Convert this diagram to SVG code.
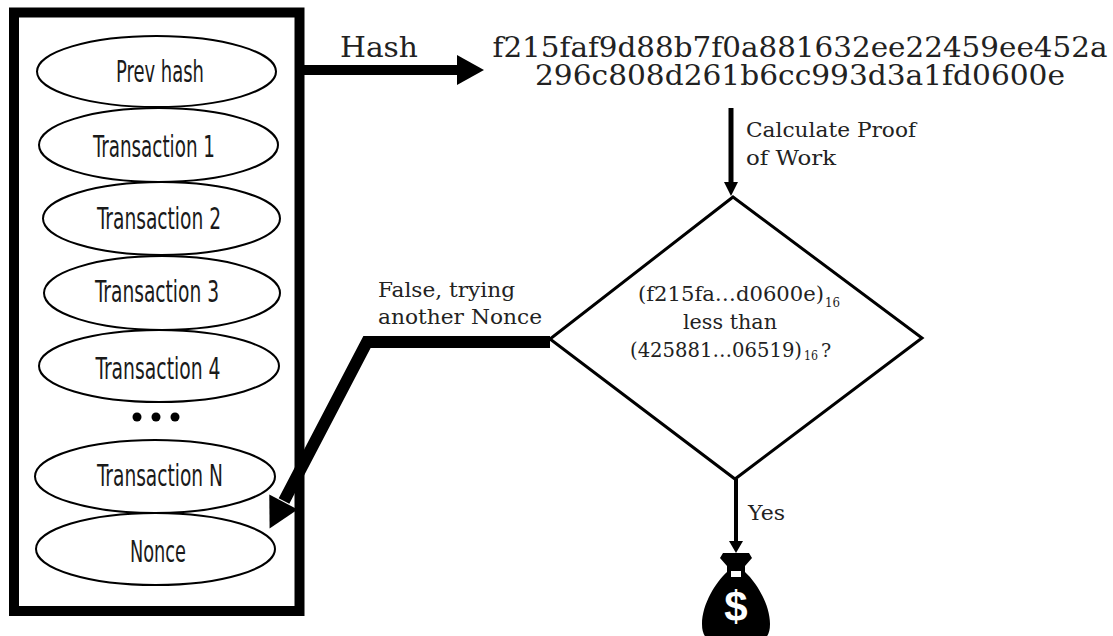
<svg xmlns="http://www.w3.org/2000/svg" width="1113" height="636" viewBox="0 0 1113 636">
<style>
.el{fill:#fff;stroke:#000;stroke-width:2}
.et{font-family:"Liberation Sans Narrow","DejaVu Sans Condensed","Liberation Sans",sans-serif;font-size:30px;fill:#1a1a1a;text-anchor:middle}
.sf{font-family:"DejaVu Serif","Liberation Serif",serif;fill:#222}
.ln{fill:none;stroke:#000}
.hd{fill:#000}
</style>
<rect width="1113" height="636" fill="#fff"/>
<g id="block">
<rect x="14" y="12.5" width="285.5" height="598.5" fill="none" stroke="#000" stroke-width="10"/>
</g>
<g id="prev-hash"><ellipse class="el" cx="156.5" cy="71.5" rx="119.5" ry="35.5"/><text class="et" x="160" y="82" textLength="88" lengthAdjust="spacingAndGlyphs">Prev hash</text></g>
<g id="tx1"><ellipse class="el" cx="158.5" cy="145" rx="119.5" ry="37"/><text class="et" x="154" y="157" textLength="122" lengthAdjust="spacingAndGlyphs">Transaction 1</text></g>
<g id="tx2"><ellipse class="el" cx="161.5" cy="218.5" rx="118.5" ry="36.5"/><text class="et" x="159" y="229" textLength="124" lengthAdjust="spacingAndGlyphs">Transaction 2</text></g>
<g id="tx3"><ellipse class="el" cx="162" cy="293" rx="118" ry="37"/><text class="et" x="157" y="302" textLength="124" lengthAdjust="spacingAndGlyphs">Transaction 3</text></g>
<g id="tx4"><ellipse class="el" cx="159" cy="366" rx="120" ry="36"/><text class="et" x="158" y="379" textLength="125" lengthAdjust="spacingAndGlyphs">Transaction 4</text></g>
<g id="dots"><circle cx="137" cy="417" r="4.5"/><circle cx="156" cy="417" r="4.5"/><circle cx="175" cy="417" r="4.5"/></g>
<g id="txN"><ellipse class="el" cx="155" cy="476.5" rx="120" ry="36.5"/><text class="et" x="160" y="486" textLength="126" lengthAdjust="spacingAndGlyphs">Transaction N</text></g>
<g id="nonce"><ellipse class="el" cx="155.5" cy="549" rx="119.5" ry="36"/><text class="et" x="158" y="562" textLength="56" lengthAdjust="spacingAndGlyphs">Nonce</text></g>
<g id="hash-value">
<text class="sf" x="800" y="57" font-size="28" text-anchor="middle" textLength="615" lengthAdjust="spacingAndGlyphs">f215faf9d88b7f0a881632ee22459ee452a</text>
<text class="sf" x="800" y="85" font-size="28" text-anchor="middle" textLength="530" lengthAdjust="spacingAndGlyphs">296c808d261b6cc993d3a1fd0600e</text>
</g>
<g id="decision">
<polygon points="733,197 922,338 735,479 550,339" fill="#fff" stroke="#000" stroke-width="3"/>
<text class="sf" x="638" y="301" font-size="20" textLength="186" lengthAdjust="spacingAndGlyphs">(f215fa…d0600e)</text>
<text class="sf" x="825" y="307" font-size="13" textLength="15" lengthAdjust="spacingAndGlyphs">16</text>
<text class="sf" x="683" y="329" font-size="20" textLength="94" lengthAdjust="spacingAndGlyphs">less than</text>
<text class="sf" x="630" y="357" font-size="20" textLength="172" lengthAdjust="spacingAndGlyphs">(425881…06519)</text>
<text class="sf" x="804" y="360" font-size="13" textLength="14" lengthAdjust="spacingAndGlyphs">16</text>
<text class="sf" x="821" y="357" font-size="19">?</text>
</g>
<g id="money-bag">
<path d="M723 553 L749 553 L752 558 L745 566 L745 572 C756 582 770 604 770 624 Q770 642 754 642 L718 642 Q702 642 702 624 C702 604 716 582 727 572 L727 566 L720 558 Z" fill="#000"/>
<rect x="731" y="571" width="10" height="6" fill="#fff"/>
<text x="736" y="621" font-family="Liberation Sans,Arial,sans-serif" font-weight="bold" font-size="42" fill="#fff" text-anchor="middle">$</text>
</g>
<g id="connectors">
<line class="ln" x1="304" y1="70" x2="459" y2="70" stroke-width="10"/>
<polygon class="hd" points="457,55 484,70 457,85"/>
<text class="sf" x="340" y="57" font-size="27" textLength="78" lengthAdjust="spacingAndGlyphs">Hash</text>
<line class="ln" x1="731" y1="108" x2="731" y2="184" stroke-width="5"/>
<polygon class="hd" points="724,182 738,182 731,196"/>
<text class="sf" x="746" y="137" font-size="20" textLength="170" lengthAdjust="spacingAndGlyphs">Calculate Proof</text>
<text class="sf" x="746" y="165" font-size="20" textLength="90" lengthAdjust="spacingAndGlyphs">of Work</text>
<polyline class="ln" points="550,342 367,342 284,501" stroke-width="12" stroke-linejoin="miter"/>
<polygon class="hd" points="297.7,509.4 269.3,494.6 269.6,528.6"/>
<text class="sf" x="378" y="297" font-size="20" textLength="137" lengthAdjust="spacingAndGlyphs">False, trying</text>
<text class="sf" x="378" y="324" font-size="20" textLength="164" lengthAdjust="spacingAndGlyphs">another Nonce</text>
<line class="ln" x1="736" y1="479" x2="736" y2="543" stroke-width="4"/>
<polygon class="hd" points="729,541 743,541 736,553"/>
<text class="sf" x="748" y="520" font-size="20" textLength="37" lengthAdjust="spacingAndGlyphs">Yes</text>
</g>
</svg>
